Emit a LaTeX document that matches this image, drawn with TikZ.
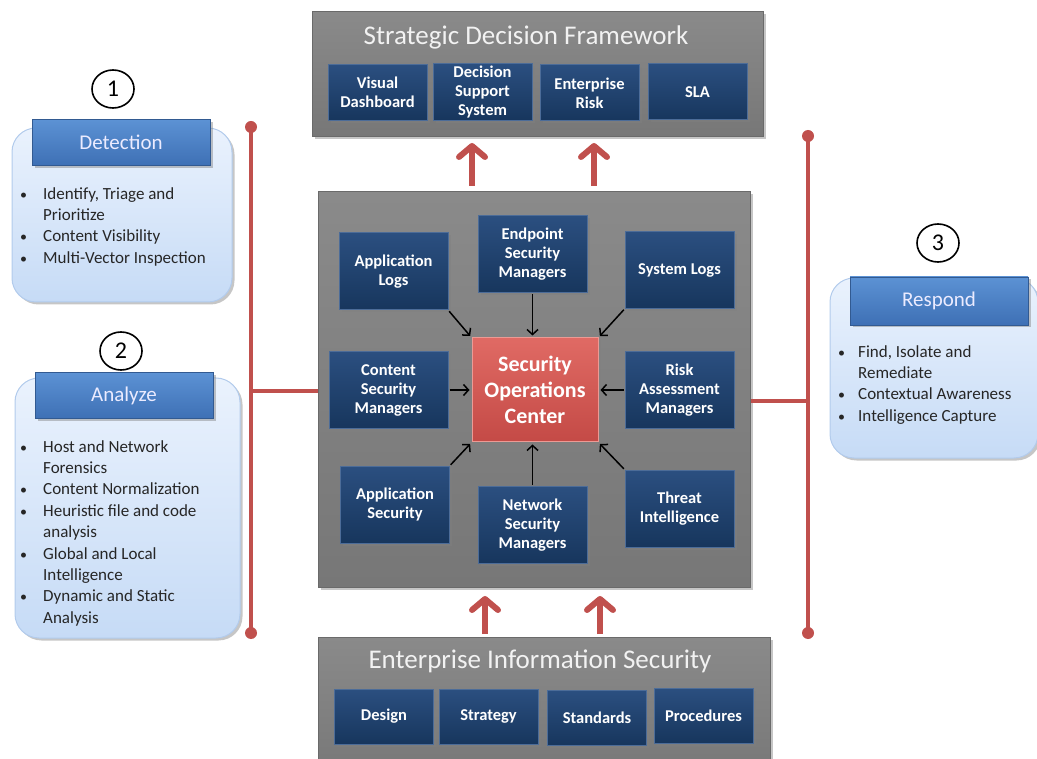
\documentclass[tikz,border=0pt]{standalone}
\usepackage{fontspec}
\setmainfont{Carlito}
\usetikzlibrary{arrows.meta,shadows,shapes.geometric}

\definecolor{navyTop}{HTML}{2B4F80}
\definecolor{navyBot}{HTML}{17365D}
\definecolor{navyEdge}{HTML}{4C6C98}
\definecolor{grayTop}{HTML}{8A8A8A}
\definecolor{grayBot}{HTML}{777777}
\definecolor{grayEdge}{HTML}{6A6A6A}
\definecolor{socTop}{HTML}{E06A64}
\definecolor{socBot}{HTML}{C44A46}
\definecolor{socEdge}{HTML}{EC9A94}
\definecolor{headTop}{HTML}{5C92D4}
\definecolor{headBot}{HTML}{3E70B5}
\definecolor{paleTop}{HTML}{EAF2FD}
\definecolor{paleBot}{HTML}{C6DBF6}
\definecolor{paleEdge}{HTML}{B2CBEC}
\definecolor{linkRed}{HTML}{C0504D}
\definecolor{bodyText}{HTML}{262626}

% bullet list: #1 = width of the bullet column, #2 = rows
\newcommand{\bulletlist}[2]{\begin{tabular}{@{}p{#1}@{}l@{}}#2\end{tabular}}
\newcommand{\bul}{{\fontsize{14}{14}\selectfont\textbullet}}

\begin{document}
\begin{tikzpicture}[x=1pt,y=-1pt,
  shade/.style={drop shadow={shadow xshift=2.5pt,shadow yshift=-2.5pt,opacity=.45}},
  graypanel/.style={draw=grayEdge,line width=1pt,top color=grayTop,bottom color=grayBot,
    shade,inner sep=0pt},
  paneltitle/.style={text=white!95!black,font=\fontsize{27}{30}\selectfont,inner sep=0pt},
  navybox/.style={draw=navyEdge,line width=1pt,top color=navyTop,bottom color=navyBot,
    text=white,font=\bfseries\fontsize{16.5}{19}\selectfont,align=center,inner sep=2pt,shade},
  smallbox/.style={navybox,minimum width=99pt,minimum height=56pt},
  midbox/.style={navybox,minimum width=109pt,minimum height=77pt},
  socbox/.style={draw=socEdge,line width=1pt,top color=socTop,bottom color=socBot,
    text=white,font=\bfseries\fontsize{22}{26}\selectfont,align=center,
    minimum width=126pt,minimum height=104pt,shade},
  palepanel/.style={draw=paleEdge,line width=1pt,top color=paleTop,bottom color=paleBot,
    rounded corners=24pt,shade},
  headbox/.style={draw=headBot!80!black,line width=.6pt,top color=headTop,bottom color=headBot,
    text=white!92!blue,font=\fontsize{21}{24}\selectfont,minimum width=178pt,
    minimum height=46pt,shade},
  numcircle/.style={draw=black,line width=1.6pt,ellipse,minimum width=42pt,minimum height=38pt,
    inner sep=0pt,font=\fontsize{24}{24}\selectfont},
  bullets/.style={anchor=north west,inner sep=0pt,text=bodyText,
    font=\fontsize{17}{21.4}\selectfont},
  feed/.style={line width=1.5pt,draw=black,-{Straight Barb[length=5pt,width=11pt]},
    shorten >=2pt,shorten <=1pt},
  bigarrow/.style={draw=linkRed,line width=6.5pt,
    -{Straight Barb[length=11pt,width=26pt,line width=6pt,round]}},
  bracket/.style={draw=linkRed,line width=3.5pt},
  dot/.style={fill=linkRed,circle,inner sep=0pt,minimum size=12pt}
]
\useasboundingbox (0,0) rectangle (1037,759);

% ---------- top panel ----------
\node[graypanel,minimum width=451pt,minimum height=125pt] (sdf) at (537.5,74.5) {};
\node[paneltitle] (sdft) at (526,37) {Strategic Decision Framework};
\node[smallbox] (vd)  at (377.5,92.5) {Visual\\Dashboard};
\node[smallbox] (dss) at (482.5,92)   {Decision\\Support\\System};
\node[smallbox] (er)  at (589.5,93)   {Enterprise\\Risk};
\node[smallbox] (sla) at (697.5,92)   {SLA};

% ---------- central panel ----------
\node[graypanel,minimum width=432pt,minimum height=395pt] (mid) at (534,389.5) {};
\node[midbox] (al)  at (393.5,271.5) {Application\\Logs};
\node[midbox] (esm) at (532.5,254.5) {Endpoint\\Security\\Managers};
\node[midbox] (sl)  at (679.5,270)   {System Logs};
\node[midbox,minimum width=119pt] (csm) at (388.5,390) {Content\\Security\\Managers};
\node[socbox] (soc) at (535,390) {Security\\Operations\\Center};
\node[midbox] (ram) at (679.5,390)   {Risk\\Assessment\\Managers};
\node[midbox] (as)  at (395,504.5)   {Application\\Security};
\node[midbox] (nsm) at (532.5,525)   {Network\\Security\\Managers};
\node[midbox] (ti)  at (679.5,508.5) {Threat\\Intelligence};

\draw[feed] (al.south east) -- (soc.north west);
\draw[feed] (esm.south) -- (esm.south |- soc.north);
\draw[feed] (sl.south west) -- (soc.north east);
\draw[feed] (csm.east) -- (soc.west);
\draw[feed] (ram.west) -- (soc.east);
\draw[feed] (as.north east) -- (soc.south west);
\draw[feed] (nsm.north) -- (nsm.north |- soc.south);
\draw[feed] (ti.north west) -- (soc.south east);

% ---------- bottom panel ----------
\node[graypanel,minimum width=452pt,minimum height=143pt] (eis) at (544,708.5) {};
\node[paneltitle] (eist) at (540,661) {Enterprise Information Security};
\node[smallbox,minimum height=55pt] (des) at (384,716.5)   {Design};
\node[smallbox,minimum height=55pt] (str) at (488.5,716.5) {Strategy};
\node[smallbox,minimum height=55pt] (std) at (597,718)     {Standards};
\node[smallbox,minimum height=55pt] (prc) at (703.5,715.5) {Procedures};

% ---------- upward flow arrows ----------
\coordinate (up1s) at (472,186); \coordinate (up1e) at (472,143);
\coordinate (up2s) at (594,186); \coordinate (up2e) at (594,143);
\coordinate (lo1s) at (485,634); \coordinate (lo1e) at (485,596);
\coordinate (lo2s) at (600,634); \coordinate (lo2e) at (600,596);
\draw[bigarrow] (up1s) -- (up1e);
\draw[bigarrow] (up2s) -- (up2e);
\draw[bigarrow] (lo1s) -- (lo1e);
\draw[bigarrow] (lo2s) -- (lo2e);

% ---------- side brackets ----------
\coordinate (lt) at (251,127); \coordinate (lb) at (251,633); \coordinate (lm) at (251,391);
\coordinate (rt) at (808,136); \coordinate (rb) at (808,633); \coordinate (rm) at (808,401);
\draw[bracket] (lt) -- (lb);
\draw[bracket] (lm) -- (mid.west |- lm);
\draw[bracket] (rt) -- (rb);
\draw[bracket] (mid.east |- rm) -- (rm);
\node[dot] (ltd) at (lt) {}; \node[dot] (lbd) at (lb) {};
\node[dot] (rtd) at (rt) {}; \node[dot] (rbd) at (rb) {};

% ---------- 1: Detection ----------
\node[numcircle] (n1) at (113,89) {1};
\node[palepanel,minimum width=220pt,minimum height=174pt] (detp) at (122,215) {};
\node[headbox] (det) at (121,142.5) {Detection};
\node[bullets] (detl) at (20,184) {\bulletlist{23pt}{%
  \bul & Identify, Triage and\\ & Prioritize\\
  \bul & Content Visibility\\
  \bul & Multi-Vector Inspection}};

% ---------- 2: Analyze ----------
\node[numcircle] (n2) at (121,351) {2};
\node[palepanel,minimum width=225pt,minimum height=260pt] (anap) at (127.5,508) {};
\node[headbox] (ana) at (124,395.5) {Analyze};
\node[bullets] (anal) at (20,437) {\bulletlist{23pt}{%
  \bul & Host and Network\\ & Forensics\\
  \bul & Content Normalization\\
  \bul & Heuristic file and code\\ & analysis\\
  \bul & Global and Local\\ & Intelligence\\
  \bul & Dynamic and Static\\ & Analysis}};

% ---------- 3: Respond ----------
\node[numcircle] (n3) at (938,243) {3};
\node[palepanel,minimum width=208pt,minimum height=180pt] (resp) at (934,368) {};
\node[headbox,minimum height=48pt] (res) at (939,301) {Respond};
\node[bullets] (resl) at (838,342) {\bulletlist{20pt}{%
  \bul & Find, Isolate and\\ & Remediate\\
  \bul & Contextual Awareness\\
  \bul & Intelligence Capture}};

\end{tikzpicture}
\end{document}
